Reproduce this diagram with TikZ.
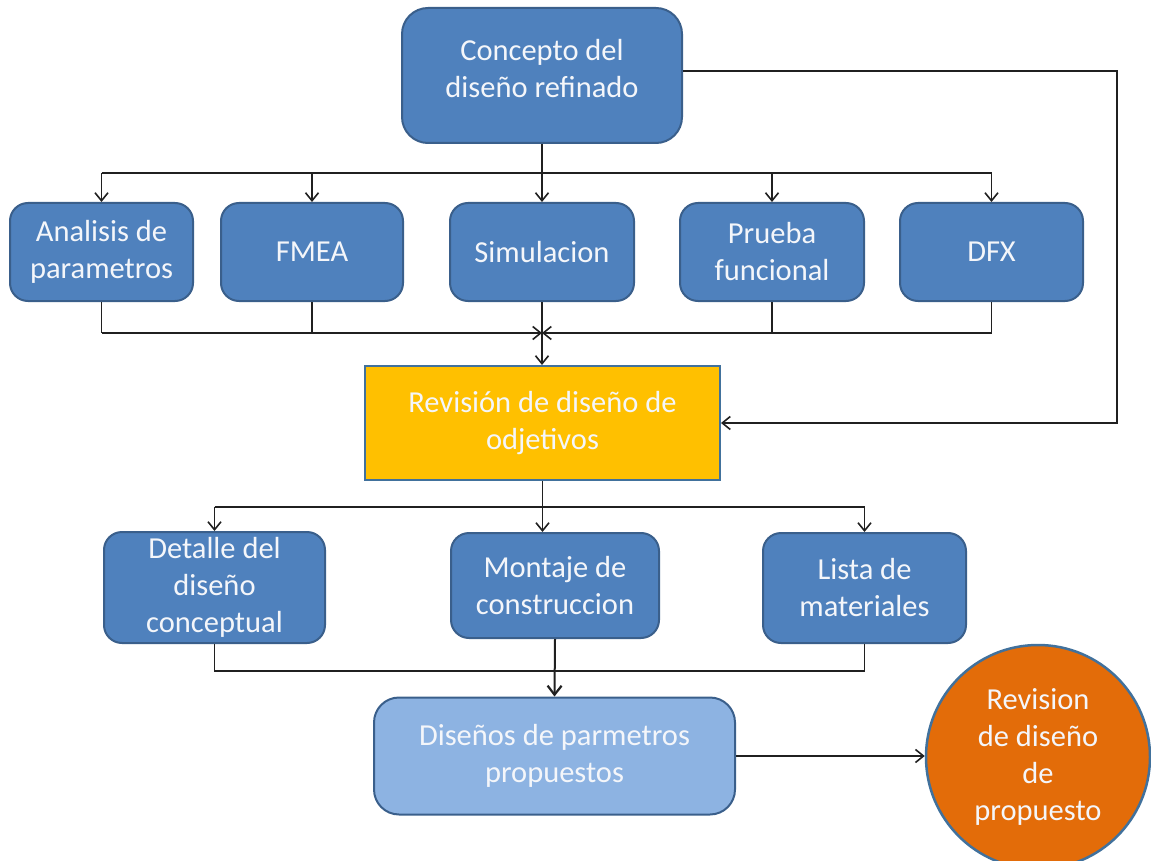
\documentclass[tikz,border=0pt]{standalone}
\usepackage{fontspec}
\setmainfont{Carlito}
\usetikzlibrary{arrows.meta}
\definecolor{boxblue}{HTML}{4F81BD}
\definecolor{boxedge}{HTML}{3A5F8B}
\definecolor{lightblue}{HTML}{8DB3E2}
\definecolor{revyellow}{HTML}{FFC000}
\definecolor{revorange}{HTML}{E36C09}
\definecolor{circedge}{HTML}{41719C}
\definecolor{linecol}{HTML}{202020}
\definecolor{txt}{HTML}{F4F6FA}
\begin{document}
\begin{tikzpicture}[x=1pt,y=-1pt,
  base/.style={draw=boxedge, line width=2pt, text=txt, align=center,
    font=\fontsize{30.5}{37}\selectfont, inner sep=0pt},
  bluebox/.style={base, fill=boxblue, rounded corners=18pt},
  conn/.style={draw=linecol, line width=1.4pt},
  arr/.style={conn, -{Straight Barb[length=8pt,width=13pt,line width=1.6pt]}},
  arrthick/.style={draw=linecol, line width=2pt, -{Straight Barb[length=9pt,width=14pt,line width=2.2pt]}},
]
\useasboundingbox (0,0) rectangle (1151,861);
\clip (0,0) rectangle (1151,861);

% nodes
\node[bluebox, rounded corners=26pt, minimum width=280pt, minimum height=135pt,
  label={[base, draw=none, fill=none, yshift=7pt, name=conceptlabel]center:Concepto del\\diseño refinado}]
  (concept) at (542,75.5) {};

\node[bluebox, minimum width=183pt, minimum height=98pt] (ana) at (101.5,252) {Analisis de\\parametros};
\node[bluebox, minimum width=182pt, minimum height=98pt] (fmea) at (312,252) {FMEA};
\node[bluebox, minimum width=184pt, minimum height=98pt] (sim) at (542,252) {Simulacion};
\node[bluebox, minimum width=184pt, minimum height=98pt] (prueba) at (772,252) {Prueba\\funcional};
\node[bluebox, minimum width=183pt, minimum height=98pt] (dfx) at (991.5,252) {DFX};

\node[base, fill=revyellow, draw=circedge, minimum width=355pt, minimum height=114pt] (rev) at (542.5,423) {Revisión de diseño de\\odjetivos};

\node[bluebox, minimum width=221pt, minimum height=111pt] (det) at (214.5,587.5) {Detalle del\\diseño\\conceptual};
\node[bluebox, minimum width=208pt, minimum height=105pt] (mont) at (555,585.5) {Montaje de\\construccion};
\node[bluebox, minimum width=203pt, minimum height=110pt] (lista) at (864.5,588) {Lista de\\materiales};

\node[base, fill=lightblue, rounded corners=25pt, minimum width=361pt, minimum height=117pt] (dis) at (554.5,756) {Diseños de parmetros\\propuestos};

\node[base, circle, fill=revorange, draw=circedge, line width=2.5pt, minimum size=224pt] (circ) at (1038,757) {Revision\\de diseño\\de\\propuesto};

% coordinates of bars
\coordinate (topbar) at (0,173);
\coordinate (botbar) at (0,333);
\coordinate (midbar) at (0,507);
\coordinate (lowbar) at (0,671);
\coordinate (fb) at (1117,71);

% top distribution
\draw[conn] (ana.north |- topbar) -- (dfx.north |- topbar);
\draw[arr] (concept.south) -- (sim.north);
\draw[arr] (ana.north |- topbar) -- (ana.north);
\draw[arr] (fmea.north |- topbar) -- (fmea.north);
\draw[arr] (prueba.north |- topbar) -- (prueba.north);
\draw[arr] (dfx.north |- topbar) -- (dfx.north);

% collector
\draw[conn] (ana.south) -- (ana.south |- botbar);
\draw[conn] (fmea.south) -- (fmea.south |- botbar);
\draw[conn] (prueba.south) -- (prueba.south |- botbar);
\draw[conn] (dfx.south) -- (dfx.south |- botbar);
\draw[arr] (ana.south |- botbar) -- (sim.south |- botbar);
\draw[arr] (dfx.south |- botbar) -- (sim.south |- botbar);
\draw[arr] (sim.south) -- (sim.south |- rev.north);

% feedback
\draw[arr] (concept.east |- fb) -- (fb) -- (fb |- rev.east) -- (rev.east);

% lower distribution
\draw[conn] (det.north |- midbar) -- (lista.north |- midbar);
\draw[arr] (rev.south) -- (rev.south |- mont.north);
\draw[arr] (det.north |- midbar) -- (det.north);
\draw[arr] (lista.north |- midbar) -- (lista.north);

% lower collector
\draw[conn] (det.south) -- (det.south |- lowbar) -- (lista.south |- lowbar) -- (lista.south);
\draw[arrthick] (mont.south) -- (dis.north);

% to circle
\draw[arr] (dis.east) -- (dis.east -| circ.west);
\end{tikzpicture}
\end{document}
